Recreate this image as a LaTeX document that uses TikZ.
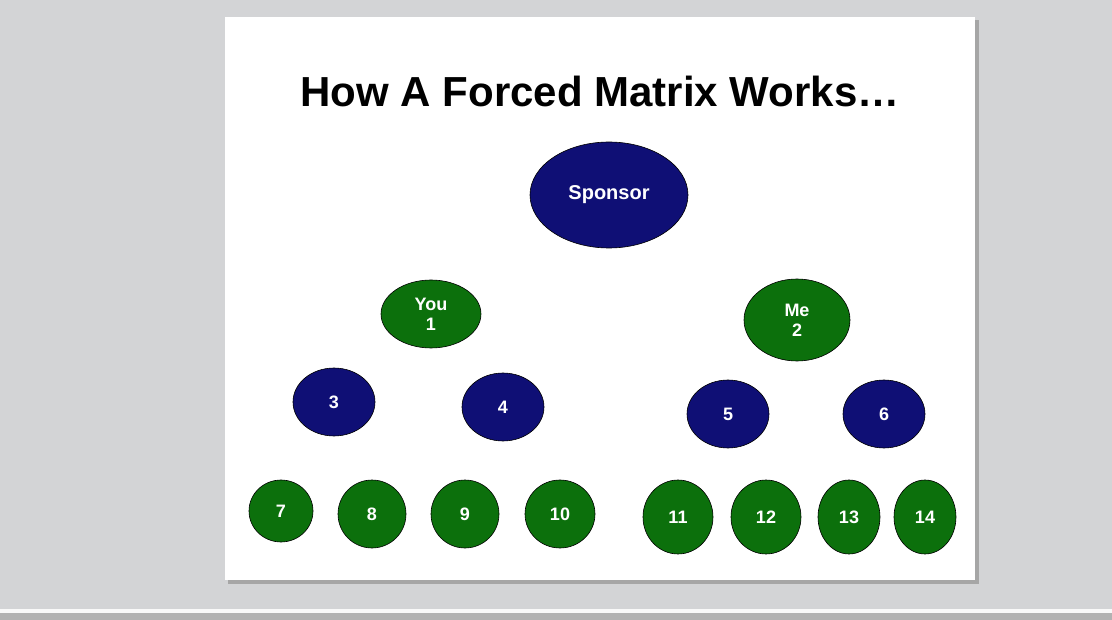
\documentclass[tikz,border=0pt]{standalone}
\usepackage{fontspec}
\setmainfont{Liberation Sans}
\usetikzlibrary{shapes.geometric}
\definecolor{navy}{HTML}{0F0F75}
\definecolor{grn}{HTML}{0C700C}
\definecolor{bg}{HTML}{D3D4D6}
\begin{document}
\begin{tikzpicture}[x=1pt,y=-1pt,
  el/.style={ellipse,draw=black,line width=0.6pt,inner sep=0pt,text=white,font=\bfseries\fontsize{18}{20}\selectfont,align=center},
  b/.style={el,fill=navy},
  g/.style={el,fill=grn}]
\useasboundingbox (0,0) rectangle (1112,620);
\fill[bg] (0,0) rectangle (1112,620);
\fill[white!95!gray] (0,609) rectangle (1112,613);
\fill[gray!60] (0,613) rectangle (1112,620);
\fill[gray!70] (228,20) rectangle (979,584);
\fill[white] (225,17) rectangle (975,580);
\node (title) at (600,91) {\bfseries\fontsize{42}{45}\selectfont How A Forced Matrix Works…};
\node[b,minimum width=158,minimum height=106,font=\bfseries\fontsize{20}{22}\selectfont] (sp) at (609,195) {\raisebox{-3pt}{Sponsor}};
\node[g,minimum width=100,minimum height=68] (you) at (431,314) {You\\1};
\node[g,minimum width=106,minimum height=82] (me) at (797,320) {Me\\2};
\node[b,minimum width=82,minimum height=68] (n3) at (334,402) {3};
\node[b,minimum width=82,minimum height=68] (n4) at (503,407) {4};
\node[b,minimum width=82,minimum height=68] (n5) at (728,414) {5};
\node[b,minimum width=82,minimum height=68] (n6) at (884,414) {6};
\node[g,minimum width=64,minimum height=62] (n7) at (281,511) {7};
\node[g,minimum width=68,minimum height=68] (n8) at (372,514) {8};
\node[g,minimum width=68,minimum height=68] (n9) at (465,514) {9};
\node[g,minimum width=70,minimum height=68] (n10) at (560,514) {10};
\node[g,minimum width=70,minimum height=74] (n11) at (678,517) {11};
\node[g,minimum width=70,minimum height=74] (n12) at (766,517) {12};
\node[g,minimum width=62,minimum height=74] (n13) at (849,517) {13};
\node[g,minimum width=62,minimum height=74] (n14) at (925,517) {14};
\end{tikzpicture}
\end{document}
